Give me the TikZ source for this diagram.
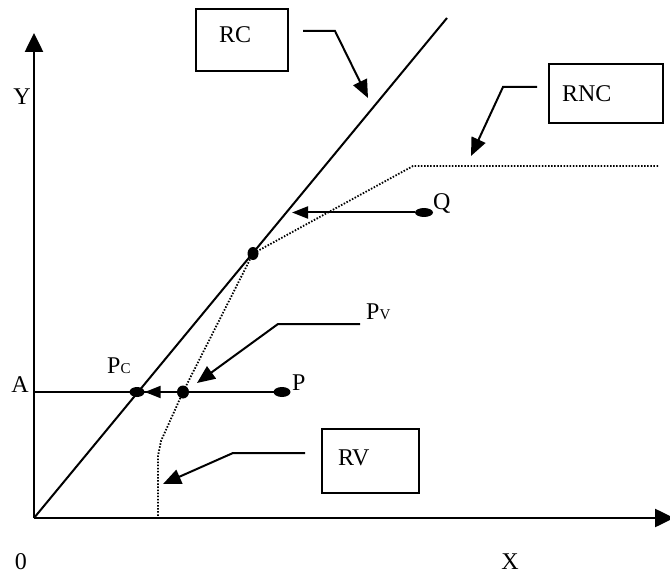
\documentclass[tikz,border=0pt]{standalone}
\usepackage{fontspec}
\setmainfont{Liberation Serif}
\usetikzlibrary{arrows.meta,shapes.geometric}
\newcommand{\subl}[1]{{\fontsize{15}{18}\selectfont #1}}
\tikzset{
  axisline/.style={line width=2.6pt,-{Triangle[length=19pt,width=18pt]}},
  thinline/.style={line width=2pt},
  dotline/.style={line width=1.8pt,dash pattern=on 1.5pt off 1.6pt},
  leader/.style={line width=2pt,-{Triangle[length=18pt,width=15pt]}},
  moveline/.style={line width=2pt,-{Triangle[length=16pt,width=12pt]}},
  dot/.style={ellipse,fill=black,inner sep=0pt},
  lbl/.style={font=\fontsize{24}{28}\selectfont,inner sep=0pt},
  labelbox/.style={draw,line width=2pt,font=\fontsize{24}{28}\selectfont,align=left,text height=17pt}
}
\begin{document}
\begin{tikzpicture}[x=1pt,y=-1pt]
  \useasboundingbox (0,0) rectangle (670,575);
  % axes
  \coordinate (o) at (34,518);
  \coordinate (ytip) at (34,33);
  \coordinate (xtip) at (674,518);
  \draw[axisline] (o) -- (ytip);
  \draw[axisline] (o) -- (xtip);
  \node[lbl,anchor=base] (ylabel) at (22,105) {Y};
  \node[lbl,anchor=base] (xlabel) at (510,569) {X};
  \node[lbl,anchor=base] (olabel) at (21,569) {0};
  % RC line
  \coordinate (rctop) at (447,18);
  \draw[thinline] (o) -- (rctop);
  % RNC / RV curve
  \draw[dotline] (658,166) -- (413,166) -- (253,253.5) -- (183,392)
    -- (161,441) -- (158,456) -- (158,518);
  % points
  \node[dot,minimum width=15pt,minimum height=10pt] (pc) at (137,392) {};
  \node[dot,minimum width=12pt,minimum height=13pt] (pv) at (183,392) {};
  \node[dot,minimum width=17pt,minimum height=10pt] (p) at (282,392) {};
  \node[dot,minimum width=11pt,minimum height=13pt] (mid) at (253,253.5) {};
  \node[dot,minimum width=18pt,minimum height=9pt] (q) at (424,212.5) {};
  \coordinate (a) at (34,392);
  \coordinate (qend) at (292,212.5);
  \draw[thinline] (a) -- (p.center);
  \draw[moveline] (pv) -- (pc);
  \draw[moveline] (q) -- (qend);
  \node[lbl,anchor=base east] (alabel) at (29,392) {A};
  \node[lbl,anchor=base west] (plabel) at (292,390) {P};
  \node[lbl,anchor=base west] (qlabel) at (433,210) {Q};
  \node[lbl,anchor=base west] (pclabel) at (107,373) {P\subl{C}};
  \node[lbl,anchor=base west] (pvlabel) at (366,319) {P\subl{V}};
  % boxes
  \node[labelbox,text depth=12pt,inner xsep=23pt,text width=46pt,minimum height=62pt] (rc) at (242,40) {RC};
  \node[labelbox,text depth=0pt,inner xsep=13pt,text width=88pt,minimum height=59pt] (rnc) at (606,93.5) {RNC};
  \node[labelbox,text depth=9pt,inner xsep=16pt,text width=65pt,minimum height=64pt] (rv) at (370.5,461) {RV};
  % leaders
  \coordinate (rcfrom) at (303,31);
  \coordinate (rcknee) at (335,31);
  \coordinate (rcto) at (368,98);
  \draw[leader] (rcfrom) -- (rcknee) -- (rcto);
  \coordinate (rncfrom) at (537,87);
  \coordinate (rncknee) at (503,87);
  \coordinate (rncto) at (471,156);
  \draw[leader] (rncfrom) -- (rncknee) -- (rncto);
  \coordinate (pvfrom) at (360,324);
  \coordinate (pvknee) at (278,324);
  \coordinate (pvto) at (197,383);
  \draw[leader] (pvfrom) -- (pvknee) -- (pvto);
  \coordinate (rvfrom) at (305,453);
  \coordinate (rvknee) at (233,453);
  \coordinate (rvto) at (163,484);
  \draw[leader] (rvfrom) -- (rvknee) -- (rvto);
\end{tikzpicture}
\end{document}
